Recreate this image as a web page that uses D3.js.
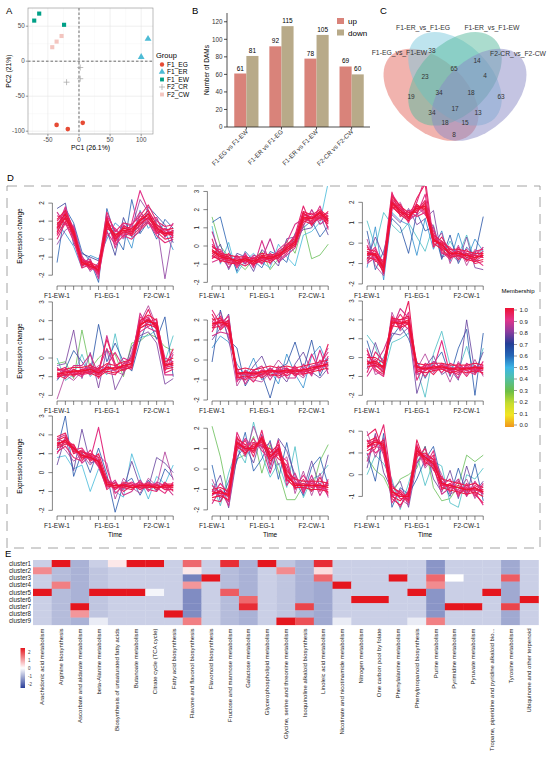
<!DOCTYPE html>
<html>
<head>
<meta charset="utf-8">
<script src="https://cdn.jsdelivr.net/npm/d3@7"></script>
<style>
  body { margin: 0; background: #fff; }
  svg { font-family: "Liberation Sans", Arial, sans-serif; }
</style>
</head>
<body>
<svg id="fig" width="550" height="763"></svg>
<script>
// ---------------- data ----------------
// A: PCA scores
const pcaGroups = ['F1_EG', 'F1_ER', 'F1_EW', 'F2_CR', 'F2_CW']
const pcaColors = ['#E64B35', '#4DBBD5', '#00A087', '#A3A3A3', '#F3C5BF']
const pcaSample = ['F1_EG', 'F1_EG', 'F1_EG', 'F1_ER', 'F1_ER', 'F1_EW', 'F1_EW', 'F1_EW',
                   'F2_CR', 'F2_CR', 'F2_CR', 'F2_CW', 'F2_CW', 'F2_CW']
const pcaPC1 = [-36, -18, 6, 100, 111, -72, -64, -24, 2, 2, -20, -43, -36, -28]
const pcaPC2 = [-91, -97, -88, 6, 32, 58, 68, 52, -9, -25, -30, 20, 28, 36]

// B: number of DAMs
const damComparisons = ['F1-EG vs F1-EW', 'F1-ER vs F1-EG', 'F1-ER vs F1-EW', 'F2-CR vs F2-CW']
const damUp = [61, 92, 78, 69]
const damDown = [81, 115, 105, 60]

// C: venn
const vennSets = ['F1-EG_vs_F1-EW', 'F1-ER_vs_F1-EG', 'F1-ER_vs_F1-EW', 'F2-CR_vs_F2-CW']
const vennColors = ['#E4675D', '#7DC9DE', '#58B99E', '#8A8AC6']
const vennCounts = [19, 38, 14, 63, 23, 65, 4, 34, 18, 34, 17, 13, 18, 15, 8]

// D: fuzzy clusters, each line = [membership, 15 standardised values]
const timeLabels = ['F1-EW-1', 'F1-EW-2', 'F1-EW-3', 'F1-ER-1', 'F1-ER-2', 'F1-ER-3',
                    'F1-EG-1', 'F1-EG-2', 'F1-EG-3', 'F2-CR-1', 'F2-CR-2', 'F2-CR-3',
                    'F2-CW-1', 'F2-CW-2', 'F2-CW-3']
const clusterYlim = [[-2.6, 2.95], [-2.2, 3.3], [-2.1, 2.8], [-2.3, 3.05], [-2.05, 2.95],
                     [-2.3, 3.0], [-2.3, 3.0], [-2.3, 2.6], [-1.9, 2.7]]

const cluster1 = [
  [1.00, 0.8, 1.4, 0.4, -1.3, -1.5, -1.7, 1.0, 0.2, 0.6, 0.5, 1.0, 1.4, 0.7, 0.3, 0.4],
  [0.98, 0.4, 1.2, 0.2, -1.4, -1.3, -1.8, 0.8, 0.0, 0.4, 0.3, 0.8, 1.2, 0.5, 0.2, 0.3],
  [0.97, 1.1, 1.6, 0.5, -1.1, -1.6, -1.5, 1.2, -0.1, 0.7, 0.6, 1.1, 1.6, 0.8, 0.5, 0.6],
  [0.95, 0.2, 1.0, 0.1, -1.5, -1.2, -1.9, 0.6, 0.3, 0.3, 0.2, 0.6, 1.0, 0.4, 0.0, 0.1],
  [0.93, 1.3, 1.1, 0.6, -1.2, -1.7, -1.4, 1.5, 0.4, 0.9, 0.8, 1.3, 1.9, 1.0, 0.7, 0.8],
  [0.92, 0.0, 0.9, -0.1, -1.6, -1.4, -2.0, 0.4, -0.3, 0.2, 0.0, 0.5, 0.9, 0.2, -0.2, 0.0],
  [0.90, 0.6, 1.8, 0.3, -1.0, -1.5, -1.6, 0.9, 0.6, 0.1, 0.9, 2.7, 1.6, 0.3, 0.6, 0.2],
  [0.88, 1.5, 0.8, 0.7, -1.3, -1.1, -2.2, 1.3, -0.5, 0.8, 0.4, 0.7, 1.1, 1.2, 0.1, 0.9],
  [0.80, -0.3, 0.5, 0.8, -0.9, -1.8, -1.3, 0.2, 0.5, 0.0, 0.6, 2.2, 1.5, 0.9, -2.2, 0.5],
  [0.72, 1.7, 2.0, -0.3, -0.8, -1.0, -1.2, 0.5, -0.9, 1.2, 0.1, 0.4, 1.8, 1.3, 0.8, -0.2],
  [0.62, -1.3, 1.7, 0.9, -0.7, -1.2, -2.4, 1.7, 0.2, -0.6, 2.2, 0.3, 1.0, 0.0, 1.1, 0.6],
  [0.55, 0.9, 0.3, -0.4, -1.6, -0.9, -1.1, 0.0, 0.9, 0.5, -0.5, 1.6, 0.6, 1.1, 0.4, -0.6],
  [0.85, 0.5, 1.5, 0.0, -1.4, -1.5, -1.7, 1.1, 0.0, 0.9, 0.7, 0.8, 1.5, 0.6, 0.3, 0.5],
  [0.96, 0.9, 1.1, 0.4, -1.2, -1.3, -1.5, 0.7, 0.1, 0.5, 0.2, 1.1, 1.3, 0.4, 0.4, 0.2],
  [0.94, 0.7, 1.3, 0.2, -1.4, -1.4, -1.6, 0.8, 0.1, 0.4, 0.6, 0.9, 1.2, 0.6, 0.2, 0.5],
  [0.92, 1.0, 1.5, 0.5, -1.2, -1.6, -1.8, 1.1, -0.2, 0.7, 0.3, 1.3, 1.1, 0.8, 0.4, 0.3],
  [0.99, 0.6, 1.2, 0.3, -1.3, -1.4, -1.7, 0.9, 0.2, 0.5, 0.4, 1.0, 1.4, 0.6, 0.3, 0.4],
  [0.90, 0.3, 1.6, 0.6, -1.1, -1.3, -1.9, 1.3, 0.5, 0.2, 0.8, 1.5, 1.0, 0.3, 0.6, 0.1]
]
const cluster2 = [
  [1.00, -0.3, -0.6, -0.7, -0.8, -0.7, -0.9, -0.6, -0.7, -0.5, -0.1, 0.2, 1.6, 1.5, 1.8, 1.4],
  [0.98, -0.5, -0.8, -0.9, -1.0, -0.8, -1.0, -0.8, -0.9, -0.6, -0.3, 0.0, 1.4, 1.2, 1.6, 1.2],
  [0.97, 0.0, -0.4, -0.5, -0.6, -0.6, -0.7, -0.4, -0.5, -0.4, 0.1, 0.4, 1.9, 1.7, 2.0, 1.6],
  [0.95, -0.7, -0.3, -1.0, -0.9, -1.1, -0.8, -0.9, -0.6, -0.7, -0.2, 0.1, 1.3, 1.6, 1.5, 1.9],
  [0.93, 0.4, -0.9, -0.4, -1.2, -0.5, -1.1, -0.5, -0.8, -0.3, 0.0, 0.6, 2.2, 1.1, 1.9, 1.0],
  [0.91, -0.1, -0.2, -0.8, -0.7, -0.9, -0.6, -1.0, -0.4, -0.8, -0.4, 0.3, 1.7, 1.8, 1.4, 1.7],
  [0.89, -0.9, -0.7, -0.6, -1.1, -0.4, -1.2, 0.3, -1.0, -0.2, 0.2, 1.2, 1.5, 1.3, 2.2, 0.9],
  [0.86, 0.8, -0.5, -1.2, -0.5, -1.0, -0.5, -0.7, 0.4, -0.9, -0.5, -0.1, 1.1, 2.0, 1.2, 1.5],
  [0.75, -0.6, 0.1, -1.3, -0.4, -0.6, -1.4, -0.2, -0.6, -1.1, 0.4, 0.5, 0.9, 1.0, 1.7, 0.6],
  [0.62, 1.3, 1.6, -0.2, -1.4, -0.3, -0.8, -1.2, -0.3, -0.5, -0.9, 0.7, 1.0, 1.4, 0.5, 1.1],
  [0.48, 1.1, -1.0, 0.2, -1.5, -0.8, -0.4, -0.9, -1.2, 0.1, -0.6, -1.1, 0.6, 0.8, 1.3, 3.5],
  [0.32, 1.6, 0.0, -0.6, -0.9, -1.3, -0.7, -0.3, -1.3, -0.7, 0.3, -0.4, 1.2, -0.7, -0.5, 0.1],
  [0.96, -0.4, -0.7, -0.8, -0.9, -0.8, -1.0, -0.7, -0.8, -0.6, 0.0, 0.3, 1.5, 1.4, 1.7, 1.3],
  [0.99, -0.2, -0.5, -0.6, -0.9, -0.7, -0.8, -0.5, -0.6, -0.5, -0.2, 0.1, 1.8, 1.5, 1.9, 1.5],
  [0.94, -0.3, -0.5, -0.8, -0.7, -0.8, -0.8, -0.7, -0.6, -0.6, -0.1, 0.3, 1.6, 1.3, 1.7, 1.5],
  [0.92, -0.6, -0.7, -0.6, -1.0, -0.6, -1.0, -0.6, -0.8, -0.4, -0.2, 0.1, 1.7, 1.6, 1.9, 1.3],
  [0.99, -0.2, -0.6, -0.7, -0.8, -0.7, -0.9, -0.6, -0.7, -0.5, -0.1, 0.2, 1.5, 1.5, 1.8, 1.4],
  [0.90, 0.1, -0.4, -0.9, -0.6, -0.9, -0.7, -0.8, -0.5, -0.7, 0.0, 0.5, 1.9, 1.2, 1.6, 1.8]
]
const cluster3 = [
  [1.00, -0.5, -0.6, -1.2, 2.0, 1.6, 1.3, 1.7, 1.8, 0.2, -0.1, -0.5, -0.5, -0.6, -0.7, -0.6],
  [0.98, -0.7, -0.8, -1.4, 1.8, 1.4, 1.1, 1.9, 1.6, 0.0, -0.3, -0.7, -0.6, -0.8, -0.9, -0.8],
  [0.97, -0.3, -0.4, -1.0, 2.3, 1.8, 1.5, 1.5, 2.0, 0.4, 0.1, -0.3, -0.3, -0.4, -0.5, -0.5],
  [0.95, -0.9, -0.5, -1.5, 1.7, 1.9, 1.2, 2.2, 2.9, -0.2, 0.3, -0.4, -0.8, -0.5, -1.0, -0.9],
  [0.93, -0.1, -0.9, -0.8, 2.5, 1.3, 1.6, 1.3, 1.5, 0.6, -0.4, -0.8, -0.2, -0.9, -0.4, -0.3],
  [0.91, -0.6, -0.2, -1.3, 1.9, 1.7, 1.0, 2.0, 3.2, 0.1, 0.0, -0.2, -0.7, -0.3, -0.8, -1.1],
  [0.89, -1.0, -0.7, -0.9, 2.1, 1.5, 1.4, 1.8, 1.4, 0.8, -0.5, -0.6, -0.4, -0.7, -0.6, -0.2],
  [0.85, 0.2, -1.1, -1.6, 1.6, 2.0, 1.1, 1.4, 1.7, 0.0, 0.5, -1.0, -0.1, -1.1, -0.3, -0.7],
  [0.78, -0.8, 0.3, -0.6, 1.4, 1.0, 1.7, 0.9, 1.2, 1.6, -0.7, -0.5, -0.9, 0.3, -1.2, -1.3],
  [0.65, 0.6, -1.3, -0.4, 1.2, 0.8, -0.5, 1.5, 0.6, 0.8, -0.8, 0.4, -1.0, -0.2, -0.6, 1.3],
  [0.55, -1.2, 0.8, -1.8, 1.5, 1.1, 0.9, -0.6, 1.2, -0.3, 0.6, -0.9, 0.5, -0.8, 0.2, -0.4],
  [0.45, 1.1, -0.2, 1.5, 0.9, 0.5, 1.0, 0.3, -0.4, 0.9, -0.7, 0.1, -0.6, 0.4, -0.9, -0.2],
  [0.96, -0.4, -0.6, -1.1, 2.2, 1.7, 1.4, 1.6, 1.9, 0.3, -0.1, -0.4, -0.6, -0.5, -0.6, -0.7],
  [0.99, -0.6, -0.5, -1.3, 1.9, 1.5, 1.2, 1.8, 1.7, 0.1, 0.0, -0.6, -0.4, -0.7, -0.8, -0.5],
  [0.94, -0.4, -0.7, -1.2, 2.1, 1.6, 1.3, 1.6, 2.1, 0.2, -0.2, -0.5, -0.6, -0.6, -0.6, -0.7],
  [0.92, -0.8, -0.3, -1.0, 1.8, 1.4, 1.5, 1.9, 1.5, 0.4, -0.3, -0.3, -0.5, -0.8, -0.7, -0.4],
  [0.90, -0.2, -0.6, -1.4, 2.4, 1.8, 1.2, 1.4, 2.4, -0.1, 0.1, -0.7, -0.3, -0.5, -0.9, -0.6],
  [0.97, -0.5, -0.5, -1.1, 2.0, 1.5, 1.4, 1.7, 1.8, 0.2, -0.2, -0.5, -0.5, -0.6, -0.7, -0.6]
]
const cluster4 = [
  [1.00, -0.8, -0.8, -0.7, -0.7, -0.6, -0.8, -0.5, -0.6, -0.4, -0.3, 1.8, 2.0, 1.8, -0.4, -0.3],
  [0.98, -1.0, -0.9, -0.9, -0.8, -0.8, -1.0, -0.7, -0.8, -0.6, -0.5, 1.6, 1.8, 1.6, -0.6, -0.5],
  [0.97, -0.6, -0.6, -0.5, -0.5, -0.4, -0.6, -0.3, -0.4, -0.2, -0.1, 2.0, 2.3, 2.0, -0.2, 0.0],
  [0.95, -0.9, -1.1, -0.6, -0.9, -0.5, -0.7, 1.0, -0.3, -0.7, -0.4, 1.7, 2.6, 1.5, -0.5, 0.5],
  [0.93, -0.7, -0.5, -1.0, -0.6, -0.9, -0.5, -0.8, -0.9, -0.3, 0.0, 2.2, 1.9, 2.1, -0.8, -0.6],
  [0.91, -1.1, -0.7, -0.8, -1.0, -0.3, -1.1, -0.4, 0.3, -0.5, -0.6, 1.4, 1.7, 1.9, 0.0, -0.2],
  [0.88, -0.5, -1.0, -0.4, -0.4, 0.2, -0.9, 1.2, -0.5, 0.0, -0.2, 2.4, 1.6, 1.4, -0.9, -0.9],
  [0.84, -2.2, -0.9, -1.2, -0.7, -0.8, -0.4, -0.6, -0.7, -0.9, 0.3, 1.9, 2.8, 1.7, -0.3, 0.3],
  [0.78, -0.4, -0.3, 1.5, -1.1, 0.3, -1.6, 0.5, -1.7, -0.8, 0.6, 1.2, 1.4, 0.8, -1.4, -1.1],
  [0.65, -1.2, -0.6, 0.4, -0.2, -0.8, 1.8, -0.2, 0.8, -0.2, -0.7, 0.9, 2.1, 1.0, 2.2, -1.0],
  [0.45, 0.0, -1.2, -0.9, 0.2, -1.0, -0.5, -0.9, 1.3, -0.7, 0.2, 1.1, 1.2, 1.5, -0.2, 1.2],
  [0.32, -0.3, -0.2, -1.1, 1.5, -0.6, 0.0, 0.4, 0.2, -1.0, 0.8, 0.9, 1.3, 1.1, 0.6, 0.4],
  [0.96, -0.9, -0.7, -0.8, -0.6, -0.7, -0.9, -0.6, -0.5, -0.5, -0.4, 1.7, 2.1, 1.7, -0.3, -0.4],
  [0.94, -0.8, -0.9, -0.6, -0.8, -0.7, -0.7, -0.6, -0.5, -0.5, -0.3, 1.9, 2.1, 1.6, -0.4, -0.2],
  [0.92, -0.6, -0.7, -0.9, -0.6, -0.5, -0.9, -0.4, -0.7, -0.3, -0.2, 1.6, 1.9, 1.9, -0.5, -0.4],
  [0.99, -0.9, -0.8, -0.7, -0.7, -0.6, -0.8, -0.5, -0.6, -0.4, -0.3, 1.8, 2.0, 1.7, -0.4, -0.3],
  [0.90, -1.0, -0.6, -0.8, -0.9, -0.8, -0.6, 0.5, -0.4, -0.6, 0.1, 2.0, 2.2, 1.5, -0.7, 0.2]
]
const cluster5 = [
  [1.00, 1.8, 1.9, 1.8, -0.7, -0.6, -0.7, -0.6, -0.5, -0.6, -0.5, -0.6, -0.5, -0.4, -0.3, -0.2],
  [0.98, 2.0, 2.1, 1.6, -0.9, -0.8, -0.9, -0.7, -0.7, -0.8, -0.6, -0.7, -0.7, -0.6, -0.5, -0.4],
  [0.97, 1.6, 1.7, 2.0, -0.5, -0.4, -0.5, -0.4, -0.3, -0.4, -0.3, -0.4, -0.3, -0.2, -0.1, 0.0],
  [0.95, 2.3, 1.5, 1.9, -0.8, -1.0, -0.6, -0.9, -0.6, -0.5, -0.8, -0.5, -0.6, -0.5, -0.4, 0.8],
  [0.93, 1.4, 2.2, 1.5, -0.6, -0.7, -1.1, -0.5, -0.8, -0.7, -0.4, -0.8, -0.4, -0.7, 0.0, -0.5],
  [0.91, 2.5, 1.8, 2.2, -1.1, -0.5, -0.8, -0.8, -0.4, -0.9, -0.7, -0.3, -0.8, 0.3, -0.6, 0.2],
  [0.88, 1.2, 1.4, 1.3, -0.4, -1.2, -0.5, -0.3, -1.0, -0.3, -0.9, -0.9, -0.2, -0.8, 0.5, -0.7],
  [0.84, 1.9, 2.4, 1.1, -1.3, -0.6, -1.0, -1.1, -0.6, 0.0, -0.5, -0.6, -0.9, -0.3, -0.2, 0.6],
  [0.76, 1.0, 1.6, 2.3, -1.0, -0.9, -0.3, 0.2, -0.8, -0.6, -1.1, -0.2, 0.4, -0.6, -0.9, -0.4],
  [0.66, -0.1, 2.5, 1.0, 0.6, -1.3, -0.6, -0.7, -1.9, -0.4, -0.2, 0.9, -0.5, 1.0, -0.8, 0.1],
  [0.55, 0.6, 1.2, 0.9, -0.2, -0.8, 0.1, -1.0, -0.5, -1.2, 0.3, -0.7, -1.4, 0.2, 0.7, -0.3],
  [0.96, 1.7, 2.0, 1.7, -0.7, -0.7, -0.6, -0.6, -0.6, -0.5, -0.6, -0.5, -0.6, -0.5, -0.3, -0.3],
  [0.94, 1.9, 1.8, 1.7, -0.8, -0.6, -0.7, -0.7, -0.5, -0.6, -0.6, -0.6, -0.5, -0.5, -0.3, -0.3],
  [0.92, 1.6, 2.0, 1.9, -0.6, -0.7, -0.8, -0.5, -0.6, -0.5, -0.4, -0.7, -0.6, -0.3, -0.4, -0.1],
  [0.99, 1.8, 1.9, 1.7, -0.7, -0.6, -0.7, -0.6, -0.6, -0.6, -0.5, -0.5, -0.5, -0.4, -0.3, -0.2],
  [0.90, 2.1, 1.6, 2.0, -0.9, -0.9, -0.5, -0.8, -0.4, -0.7, -0.6, -0.4, -0.7, -0.6, -0.2, 0.4]
]
const cluster6 = [
  [1.00, -0.3, -0.2, -0.5, 1.9, 1.8, 2.0, -0.5, -0.6, -0.5, -0.5, -0.6, -0.6, -0.6, -0.5, -0.6],
  [0.98, -0.5, -0.4, -0.8, 1.7, 1.6, 1.8, -0.7, -0.8, -0.7, -0.6, -0.8, -0.7, -0.8, -0.7, -0.8],
  [0.97, 0.0, 0.0, -0.3, 2.1, 2.0, 2.2, -0.3, -0.4, -0.3, -0.3, -0.4, -0.4, -0.4, -0.3, -0.4],
  [0.95, 0.4, -0.6, -0.9, 2.2, 1.5, 3.0, -0.8, -0.5, -0.9, -0.4, -0.7, -0.9, -0.5, -0.8, -0.5],
  [0.93, -0.8, 0.3, -0.2, 1.6, 2.3, 1.7, -0.4, -1.0, -0.4, -0.8, -0.3, -0.5, -1.0, -0.4, -0.9],
  [0.91, -0.1, -0.7, -1.0, 2.0, 1.9, 1.5, -1.2, -0.3, -0.6, 0.9, -0.9, -0.3, -0.7, -0.9, -0.2],
  [0.88, -1.0, -0.3, 0.4, 1.5, 2.6, 2.1, -0.9, -0.7, -0.2, -0.6, -0.5, -1.1, -0.3, -0.6, -0.7],
  [0.84, 0.5, -0.9, -0.7, 2.4, 1.4, 1.9, -0.6, 0.2, -0.8, -0.3, -1.3, -0.2, -0.9, -0.1, -1.0],
  [0.76, -0.6, 0.8, -0.4, 1.3, 1.2, 1.6, -1.9, -0.5, 0.1, -0.9, -0.6, -1.2, 2.0, -0.8, 0.3],
  [0.64, 0.9, -0.5, 0.0, 1.1, 1.7, 1.0, -0.2, -1.1, -0.3, 0.3, -1.0, 0.5, 1.5, -2.0, 1.3],
  [0.45, 1.2, 0.6, -0.9, 0.8, 1.0, 1.3, -0.6, -2.1, 0.2, 1.4, -0.4, -0.7, 0.6, -0.9, 0.5],
  [0.96, -0.2, -0.3, -0.6, 1.8, 1.9, 1.8, -0.5, -0.5, -0.6, -0.4, -0.6, -0.5, -0.6, -0.6, -0.5],
  [0.94, -0.4, -0.1, -0.6, 2.0, 1.7, 1.9, -0.6, -0.6, -0.6, -0.5, -0.5, -0.7, -0.5, -0.6, -0.6],
  [0.92, -0.2, -0.5, -0.4, 1.8, 2.0, 2.1, -0.4, -0.7, -0.4, -0.6, -0.7, -0.5, -0.7, -0.5, -0.5],
  [0.99, -0.3, -0.3, -0.5, 1.9, 1.8, 1.9, -0.5, -0.6, -0.5, -0.5, -0.6, -0.6, -0.6, -0.5, -0.6],
  [0.90, 0.2, -0.4, -0.7, 2.1, 1.6, 2.4, -0.7, -0.4, -0.7, -0.3, -0.6, -0.8, -0.4, -0.7, -0.4]
]
const cluster7 = [
  [1.00, 1.5, 1.7, 1.3, 0.9, 0.8, 0.6, -0.6, -0.7, -0.7, -0.8, -0.7, -0.7, -0.8, -0.7, -0.7],
  [0.98, 1.7, 1.9, 1.1, 1.1, 0.9, 0.4, -0.7, -0.8, -0.6, -0.7, -0.8, -0.8, -0.7, -0.8, -0.8],
  [0.97, 1.3, 1.5, 1.5, 0.7, 1.0, 0.8, -0.5, -0.6, -0.8, -0.9, -0.6, -0.6, -0.9, -0.6, -0.6],
  [0.95, 1.9, 2.1, 1.0, 1.2, 0.6, 1.0, -0.3, -0.9, -0.5, -0.6, -0.9, -0.7, -0.6, -0.9, -0.9],
  [0.93, 1.1, 1.4, 0.8, 0.6, 1.2, 0.5, -0.9, -0.5, -1.0, -0.7, -0.5, -0.9, -1.0, -0.5, -1.0],
  [0.91, 1.8, 1.6, 1.2, 1.3, 0.7, 2.4, 0.2, -1.1, -0.7, -0.5, -0.8, -0.5, -0.8, -1.1, -0.5],
  [0.88, 1.0, 1.8, 1.4, 0.5, 0.9, 0.3, -0.8, -0.4, -1.2, -1.0, -0.4, -1.0, -0.5, -0.7, -1.2],
  [0.84, 1.6, 1.2, 0.6, 1.0, 0.4, 0.9, 0.5, -1.4, -0.3, -0.8, -1.1, -0.3, -0.7, 1.1, -0.4],
  [0.76, 0.4, 1.9, 0.1, 2.3, 0.5, 0.7, -0.4, -0.6, -0.9, 0.6, -0.7, -0.8, 0.8, 0.5, 0.0],
  [0.64, 1.2, 3.0, -0.2, 1.1, 0.0, 1.3, -0.1, -2.1, -0.6, -0.3, -1.2, -0.4, -1.0, 0.2, -0.3],
  [0.48, 0.8, 0.9, 0.2, 0.4, -1.0, 0.2, -0.3, -1.0, -1.3, 1.0, -0.3, -1.4, -0.2, -0.6, 0.4],
  [0.96, 1.4, 1.6, 1.3, 0.8, 0.8, 0.6, -0.6, -0.7, -0.7, -0.7, -0.7, -0.7, -0.7, -0.8, -0.7],
  [0.94, 1.6, 1.6, 1.2, 1.0, 0.7, 0.6, -0.7, -0.7, -0.6, -0.8, -0.7, -0.6, -0.8, -0.7, -0.8],
  [0.92, 1.4, 1.8, 1.4, 0.8, 0.9, 0.7, -0.5, -0.8, -0.8, -0.7, -0.6, -0.8, -0.7, -0.6, -0.7],
  [0.99, 1.5, 1.7, 1.3, 0.9, 0.8, 0.6, -0.6, -0.7, -0.7, -0.8, -0.7, -0.7, -0.8, -0.7, -0.7],
  [0.90, 1.8, 2.0, 1.1, 1.1, 1.0, 0.5, -0.4, -0.9, -0.6, -0.6, -0.9, -0.6, -0.6, -0.9, -0.6]
]
const cluster8 = [
  [1.00, -1.2, -1.1, -1.3, 1.3, 1.0, 1.0, 1.5, 0.6, 1.0, -0.3, -0.8, -0.8, -0.8, -0.8, -0.9],
  [0.98, -1.4, -1.3, -1.5, 1.1, 0.8, 1.2, 1.3, 0.4, 0.8, -0.5, -0.9, -0.9, -1.0, -1.0, -1.1],
  [0.97, -1.0, -0.9, -1.1, 1.5, 1.2, 0.8, 1.6, 0.8, 1.2, -0.1, -0.5, -0.6, -0.6, -0.6, -0.7],
  [0.95, -1.5, -1.6, -0.9, 1.6, 0.7, 1.3, 1.1, 1.0, 0.5, 0.2, -1.0, -0.5, -1.1, -0.4, -1.2],
  [0.93, -0.8, -1.2, -1.6, 1.0, 1.4, 0.6, 1.9, 0.2, 1.4, -0.6, -0.4, -1.1, -0.5, -1.1, -0.6],
  [0.91, -1.3, -0.7, -1.2, 1.8, 0.9, 1.5, 0.9, 0.5, 0.7, 0.4, -0.9, -0.3, -0.9, -0.7, -1.3],
  [0.88, -1.7, -1.0, -1.8, 0.9, 1.5, 1.0, 1.2, -0.2, 1.1, -0.8, -0.2, -1.2, -0.3, -1.3, -0.5],
  [0.84, -0.5, -1.4, -1.0, 1.4, 0.6, 2.1, 1.0, 1.3, 0.2, 0.6, -1.2, -0.1, -1.3, -0.2, -1.4],
  [0.76, -1.1, -0.3, -1.9, 0.6, 1.1, 0.3, 1.7, 0.0, 1.5, 0.9, -0.3, -1.0, 0.4, -0.9, 0.7],
  [0.62, 0.2, -1.6, -0.6, 0.4, 1.8, -0.1, 0.5, 1.4, -0.5, 1.3, -0.6, -1.3, 0.1, 0.6, -0.8],
  [0.45, -0.7, -1.8, -0.2, 1.0, 0.3, 2.3, 0.7, -0.4, 0.3, -0.9, 1.1, -1.4, -0.5, -0.3, 0.2],
  [0.32, 2.1, 0.6, -1.4, 0.5, 0.7, 1.6, -0.2, 1.2, -0.1, -1.5, -1.5, -0.8, -1.1, 0.4, 1.2],
  [0.96, -1.1, -1.2, -1.2, 1.2, 1.1, 0.9, 1.4, 0.7, 0.9, -0.4, -0.7, -0.8, -0.8, -0.9, -0.8],
  [0.94, -1.2, -1.2, -1.2, 1.2, 1.0, 1.1, 1.4, 0.6, 0.9, -0.2, -0.8, -0.7, -0.9, -0.8, -0.8],
  [0.92, -1.3, -1.0, -1.4, 1.4, 0.9, 0.9, 1.6, 0.5, 1.1, -0.4, -0.7, -0.9, -0.7, -0.9, -1.0],
  [0.99, -1.2, -1.1, -1.3, 1.3, 1.0, 1.0, 1.5, 0.6, 1.0, -0.3, -0.8, -0.8, -0.8, -0.8, -0.9],
  [0.90, -1.0, -1.4, -1.1, 1.1, 1.2, 1.3, 1.2, 0.8, 0.8, 0.0, -0.6, -1.0, -0.6, -1.0, -0.7]
]
const cluster9 = [
  [1.00, 1.3, 1.5, 1.4, -0.8, -1.0, -1.0, 1.1, 0.8, 0.5, -0.4, -0.5, -0.6, -0.7, -0.6, -0.8],
  [0.98, 1.5, 1.7, 1.2, -1.0, -1.2, -0.8, 1.3, 0.6, 0.3, -0.6, -0.7, -0.8, -0.9, -0.8, -1.0],
  [0.97, 1.1, 1.3, 1.6, -0.6, -0.8, -1.2, 0.9, 1.0, 0.7, -0.2, -0.3, -0.4, -0.5, -0.4, -0.6],
  [0.95, 1.8, 2.1, 1.0, -1.1, -1.4, -0.9, 1.6, 0.5, 0.9, -0.7, -0.4, -0.9, -0.6, -0.9, -1.3],
  [0.93, 0.9, 1.2, 2.3, -0.5, -0.9, -1.3, 0.8, 1.2, 0.2, -0.1, -0.8, -0.3, -0.9, -0.5, -0.7],
  [0.91, 1.6, 1.0, 1.3, -1.3, -0.7, -1.1, 1.4, 0.4, 1.1, -0.5, -0.2, -1.0, -0.4, -1.0, -0.4],
  [0.88, 0.6, 1.8, 0.9, -0.9, -1.5, -0.7, 0.6, 0.9, 0.4, -0.9, -0.6, -0.2, -1.0, -0.3, -0.9],
  [0.84, 2.0, 0.8, 1.7, -0.4, -1.1, -1.4, 1.2, 0.3, 0.8, 0.0, -0.9, -0.7, -0.2, -1.1, -0.5],
  [0.76, 0.3, 1.9, 0.1, -0.7, -0.3, -1.5, 0.5, 1.3, -0.2, -0.8, 0.2, -1.1, 0.4, -0.8, -0.3],
  [0.64, 1.0, -0.3, 1.9, -1.5, -0.6, -0.9, -0.2, 0.7, 1.3, -0.3, -1.0, 0.3, -0.9, 0.5, -1.2],
  [0.45, 0.0, 0.9, 0.5, -0.2, -1.6, -0.4, 0.9, -0.5, 0.6, 0.4, -1.3, -1.5, 0.0, -0.2, 0.3],
  [0.32, 0.8, 0.2, -0.1, -0.9, -0.2, 0.0, 0.3, 1.3, -0.6, -1.2, -1.1, -0.5, 0.9, 0.6, 0.9],
  [0.96, 1.4, 1.6, 1.3, -0.8, -0.9, -1.0, 1.0, 0.7, 0.6, -0.4, -0.6, -0.5, -0.7, -0.7, -0.7],
  [0.94, 1.3, 1.4, 1.5, -0.9, -1.0, -0.9, 1.1, 0.8, 0.6, -0.5, -0.5, -0.6, -0.6, -0.7, -0.8],
  [0.92, 1.2, 1.6, 1.3, -0.7, -1.1, -1.1, 1.2, 0.7, 0.4, -0.3, -0.6, -0.7, -0.8, -0.6, -0.9],
  [0.99, 1.3, 1.5, 1.4, -0.8, -1.0, -1.0, 1.1, 0.8, 0.5, -0.4, -0.5, -0.6, -0.7, -0.6, -0.8],
  [0.90, 1.6, 1.3, 1.2, -1.0, -0.8, -1.2, 1.0, 0.9, 0.7, -0.6, -0.4, -0.8, -0.5, -0.8, -1.4]
]
const clusterLines = [cluster1, cluster2, cluster3, cluster4, cluster5, cluster6, cluster7, cluster8, cluster9]

const membershipStops = [0.0, 0.1, 0.2, 0.3, 0.42, 0.5, 0.6, 0.7, 0.8, 0.9, 1.0]
const membershipColors = ['#F0961C', '#F3E523', '#C6DC2E', '#6CBE45', '#4FC0B0', '#3DB6E6',
                          '#2466B6', '#243E96', '#8B3C9E', '#E2348A', '#EE1133']

// E: pathway enrichment heatmap
const heatClusters = ['cluster1', 'cluster2', 'cluster3', 'cluster4', 'cluster5',
                      'cluster6', 'cluster7', 'cluster8', 'cluster9']
const heatPathways = [
  'Arachidonic acid metabolism', 'Arginine biosynthesis', 'Ascorbate and aldarate metabolism',
  'beta-Alanine metabolism', 'Biosynthesis of unsaturated fatty acids', 'Butanoate metabolism',
  'Citrate cycle (TCA cycle)', 'Fatty acid biosynthesis', 'Flavone and flavonol biosynthesis',
  'Flavonoid biosynthesis', 'Fructose and mannose metabolism', 'Galactose metabolism',
  'Glycerophospholipid metabolism', 'Glycine, serine and threonine metabolism',
  'Isoquinoline alkaloid biosynthesis', 'Linoleic acid metabolism',
  'Nicotinate and nicotinamide metabolism', 'Nitrogen metabolism', 'One carbon pool by folate',
  'Phenylalanine metabolism', 'Phenylpropanoid biosynthesis', 'Purine metabolism',
  'Pyrimidine metabolism', 'Pyruvate metabolism', 'Tropane, piperidine and pyridine alkaloid bio...',
  'Tyrosine metabolism', 'Ubiquinone and other terpenoid'
]
const heatValues = [
  [-0.5, 2.0, -0.8, -0.5, 0.2, 2.0, 2.0, -0.5, 1.3, -0.5, 1.8, -0.8, 2.0, -0.6, -0.8, 1.8, -0.5, -0.5, -0.5, -0.5, -0.5, -1.1, -0.5, -0.5, -0.5, -0.9, -0.5],
  [1.0, -0.7, -0.8, -0.6, -0.5, -0.5, -0.5, -0.5, 0.2, -0.5, -0.7, -0.8, -0.5, 1.0, -0.8, 0.3, -0.5, -0.5, -0.5, -0.5, -0.5, -1.1, -0.5, -0.5, -0.5, -0.9, -0.5],
  [-0.5, -0.7, -0.8, -0.6, -0.5, -0.5, -0.5, -0.5, -1.3, 2.0, -0.7, -0.8, -0.5, -0.6, -0.8, 1.3, -0.5, -0.5, -0.5, 2.0, -0.5, 1.3, 0.0, -0.5, -0.5, 1.4, -0.5],
  [-0.5, 1.1, -0.8, -0.6, -0.5, -0.5, -0.5, -0.5, 0.9, -0.5, -0.7, -0.8, -0.5, -0.6, -0.8, -0.9, 2.0, -0.5, -0.5, -0.5, -0.5, 1.0, -0.5, -0.5, -0.5, -0.9, -0.5],
  [2.0, -0.7, -0.8, 2.0, 2.0, 2.0, -0.1, -0.5, -1.2, -0.5, 1.4, -0.8, -0.5, -0.6, -0.8, -0.9, -0.5, -0.5, -0.5, -0.5, 2.0, -1.1, -0.5, -0.5, 2.0, -0.9, -0.5],
  [-0.5, -0.7, -0.8, -0.6, -0.5, -0.5, -0.5, -0.5, -1.2, -0.5, -0.7, 1.3, -0.5, -0.6, -0.8, -0.9, -0.5, 2.0, 2.0, -0.5, -0.5, -1.1, -0.5, -0.5, -0.5, -0.9, 2.0],
  [-0.5, -0.7, 2.0, -0.6, -0.5, -0.5, -0.5, -0.5, -1.2, -0.5, -0.7, 1.8, -0.5, -0.6, 1.6, -0.9, -0.5, -0.5, -0.5, -0.5, -0.5, -1.1, 2.0, 2.0, -0.5, 1.6, -0.5],
  [-0.5, -0.7, 0.9, -0.6, -0.5, -0.5, -0.5, 2.0, -1.2, -0.5, -0.7, -0.8, -0.5, -0.6, -0.8, -0.9, -0.5, -0.5, -0.5, -0.5, -0.5, -1.1, -0.5, -0.5, -0.5, -0.9, -0.5],
  [-0.5, -0.7, -0.8, -0.2, -0.5, -0.5, -0.5, -0.5, 1.1, -0.5, -0.7, -0.8, -0.5, 2.0, 1.5, -0.9, -0.2, -0.5, -0.5, -0.5, -0.2, 1.1, -0.5, -0.5, -0.5, -0.9, -0.5]
]
const heatLegendTicks = [2, 1, 0, -1, -2]

// ---------------- drawing ----------------
const svg = d3.select('#fig')
const defs = svg.append('defs')

function panelLetter(t, x, y) {
  svg.append('text').attr('x', x).attr('y', y).attr('font-size', 9.5).text(t)
}
panelLetter('A', 6, 14)
panelLetter('B', 192, 14)
panelLetter('C', 380, 14)
panelLetter('D', 7, 181)
panelLetter('E', 5, 557)

// ---- A: PCA ----
{
  const left = 28, right = 153, top = 8, bottom = 134
  const x = d3.scaleLinear().domain([-82, 119]).range([left, right])
  const y = d3.scaleLinear().domain([-104, 76]).range([bottom, top])
  const g = svg.append('g')

  g.selectAll('.vmin').data([-75, -25, 25, 75]).join('line')
    .attr('x1', d => x(d)).attr('x2', d => x(d)).attr('y1', top).attr('y2', bottom)
    .attr('stroke', '#F3F3F3').attr('stroke-width', 0.4)
  g.selectAll('.hmin').data([-75, -25, 25, 75]).join('line')
    .attr('y1', d => y(d)).attr('y2', d => y(d)).attr('x1', left).attr('x2', right)
    .attr('stroke', '#F3F3F3').attr('stroke-width', 0.4)
  g.selectAll('.vmaj').data([-50, 0, 50, 100]).join('line')
    .attr('x1', d => x(d)).attr('x2', d => x(d)).attr('y1', top).attr('y2', bottom)
    .attr('stroke', '#E6E6E6').attr('stroke-width', 0.6)
  g.selectAll('.hmaj').data([-100, -50, 0, 50]).join('line')
    .attr('y1', d => y(d)).attr('y2', d => y(d)).attr('x1', left).attr('x2', right)
    .attr('stroke', '#E6E6E6').attr('stroke-width', 0.6)

  // zero lines
  g.append('line').attr('x1', x(0)).attr('x2', x(0)).attr('y1', top).attr('y2', bottom)
    .attr('stroke', '#333').attr('stroke-width', 0.7).attr('stroke-dasharray', '2.5,2')
  g.append('line').attr('y1', y(0)).attr('y2', y(0)).attr('x1', left).attr('x2', right)
    .attr('stroke', '#333').attr('stroke-width', 0.7).attr('stroke-dasharray', '2.5,2')

  const color = d3.scaleOrdinal().domain(pcaGroups).range(pcaColors)
  const shape = d3.scaleOrdinal().domain(pcaGroups)
    .range([d3.symbolCircle, d3.symbolTriangle, d3.symbolSquare, null, d3.symbolSquare])
  const drawSymbol = (sel, grp, size) => {
    if (grp === 'F2_CR') {
      sel.append('path').attr('d', 'M-3,0H3M0,-3V3').attr('fill', 'none')
        .attr('stroke', color(grp)).attr('stroke-width', 0.7)
    } else {
      sel.append('path').attr('d', d3.symbol().type(shape(grp)).size(size)())
        .attr('fill', color(grp))
    }
  }
  pcaSample.forEach((grp, i) => {
    const p = g.append('g').attr('transform', `translate(${x(pcaPC1[i])},${y(pcaPC2[i])})`)
    drawSymbol(p, grp, grp === 'F1_ER' ? 20 : 17)
  })

  g.append('rect').attr('x', left).attr('y', top).attr('width', right - left).attr('height', bottom - top)
    .attr('fill', 'none').attr('stroke', '#8F8F8F').attr('stroke-width', 0.6)

  // axes ticks
  g.selectAll('.xt').data([-50, 0, 50, 100]).join('line')
    .attr('x1', d => x(d)).attr('x2', d => x(d)).attr('y1', bottom).attr('y2', bottom + 2.2)
    .attr('stroke', '#555').attr('stroke-width', 0.6)
  g.selectAll('.xl').data([-50, 0, 50, 100]).join('text')
    .attr('x', d => x(d)).attr('y', bottom + 7.8).attr('text-anchor', 'middle')
    .attr('font-size', 6.3).attr('fill', '#4D4D4D').text(d => d)
  g.selectAll('.yt').data([-100, -50, 0, 50]).join('line')
    .attr('y1', d => y(d)).attr('y2', d => y(d)).attr('x1', left - 2.2).attr('x2', left)
    .attr('stroke', '#555').attr('stroke-width', 0.6)
  g.selectAll('.yl').data([-100, -50, 0, 50]).join('text')
    .attr('x', left - 3.3).attr('y', d => y(d) + 2.2).attr('text-anchor', 'end')
    .attr('font-size', 6.3).attr('fill', '#4D4D4D').text(d => d)

  g.append('text').attr('x', (left + right) / 2).attr('y', 149.5).attr('text-anchor', 'middle')
    .attr('font-size', 6.8).text('PC1 (26.1%)')
  g.append('text').attr('transform', `translate(10.5,${(top + bottom) / 2}) rotate(-90)`)
    .attr('text-anchor', 'middle').attr('font-size', 6.8).text('PC2 (21%)')

  // legend
  g.append('text').attr('x', 156).attr('y', 58).attr('font-size', 7.5).text('Group')
  pcaGroups.forEach((grp, i) => {
    const yy = 64.5 + i * 7.5
    const p = g.append('g').attr('transform', `translate(162,${yy})`)
    drawSymbol(p, grp, grp === 'F1_ER' ? 18 : 15)
    g.append('text').attr('x', 167).attr('y', yy + 2.4).attr('font-size', 6.6).text(grp)
  })
}

// ---- B: DAM bars ----
{
  const x = d3.scaleBand().domain(damComparisons).range([229, 369]).paddingInner(0.31).paddingOuter(0.15)
  const y = d3.scaleLinear().domain([0, 130]).range([127, 13])
  const g = svg.append('g')
  const bw = x.bandwidth() / 2
  const upColor = '#D9837A', downColor = '#B8AA89'

  g.selectAll('.up').data(damComparisons).join('rect')
    .attr('x', d => x(d)).attr('y', (d, i) => y(damUp[i])).attr('width', bw)
    .attr('height', (d, i) => y(0) - y(damUp[i])).attr('fill', upColor)
  g.selectAll('.down').data(damComparisons).join('rect')
    .attr('x', d => x(d) + bw).attr('y', (d, i) => y(damDown[i])).attr('width', bw)
    .attr('height', (d, i) => y(0) - y(damDown[i])).attr('fill', downColor)
  g.selectAll('.upl').data(damComparisons).join('text')
    .attr('x', d => x(d) + bw / 2).attr('y', (d, i) => y(damUp[i]) - 3).attr('text-anchor', 'middle')
    .attr('font-size', 6.5).text((d, i) => damUp[i])
  g.selectAll('.downl').data(damComparisons).join('text')
    .attr('x', d => x(d) + bw * 1.5).attr('y', (d, i) => y(damDown[i]) - 3).attr('text-anchor', 'middle')
    .attr('font-size', 6.5).text((d, i) => damDown[i])

  // axes
  g.append('line').attr('x1', 227).attr('x2', 227).attr('y1', y(0)).attr('y2', y(130))
    .attr('stroke', '#222').attr('stroke-width', 0.8)
  g.append('line').attr('x1', 227).attr('x2', 370).attr('y1', y(0)).attr('y2', y(0))
    .attr('stroke', '#222').attr('stroke-width', 0.8)
  const yt = d3.range(0, 121, 20)
  g.selectAll('.ytk').data(yt).join('line')
    .attr('x1', 224).attr('x2', 227).attr('y1', d => y(d)).attr('y2', d => y(d))
    .attr('stroke', '#222').attr('stroke-width', 0.8)
  g.selectAll('.ytl').data(yt).join('text')
    .attr('x', 222.5).attr('y', d => y(d) + 2.2).attr('text-anchor', 'end')
    .attr('font-size', 6.3).attr('fill', '#333').text(d => d)
  g.selectAll('.xtk').data(damComparisons).join('line')
    .attr('x1', d => x(d) + bw).attr('x2', d => x(d) + bw).attr('y1', y(0)).attr('y2', y(0) + 2.5)
    .attr('stroke', '#222').attr('stroke-width', 0.8)
  g.selectAll('.xtl').data(damComparisons).join('text')
    .attr('transform', d => `translate(${x(d) + bw + 2},${y(0) + 5}) rotate(-45)`)
    .attr('text-anchor', 'end').attr('font-size', 6.3).attr('fill', '#333').text(d => d)
  g.append('text').attr('transform', `translate(209,70) rotate(-90)`)
    .attr('text-anchor', 'middle').attr('font-size', 6.5).text('Number of DAMs')

  // legend
  const leg = [['up', upColor], ['down', downColor]]
  leg.forEach((l, i) => {
    g.append('rect').attr('x', 337).attr('y', 18 + i * 11.5).attr('width', 7).attr('height', 6).attr('fill', l[1])
    g.append('text').attr('x', 348).attr('y', 24 + i * 11.5).attr('font-size', 8).text(l[0])
  })
}

// ---- C: Venn ----
{
  const vx = d3.scaleLinear().domain([0, 1]).range([375, 535])
  const vy = d3.scaleLinear().domain([0, 1]).range([169.2, 9.2])
  const unit = 160
  const ellipses = [
    { cx: 0.35, cy: 0.465, rot: 43 },
    { cx: 0.50, cy: 0.565, rot: 45 },
    { cx: 0.50, cy: 0.565, rot: -45 },
    { cx: 0.65, cy: 0.465, rot: -43 }
  ]
  const g = svg.append('g')
  g.selectAll('ellipse').data(ellipses).join('ellipse')
    .attr('transform', d => `translate(${vx(d.cx)},${vy(d.cy)}) rotate(${d.rot})`)
    .attr('rx', 0.35 * unit).attr('ry', 0.22 * unit)
    .attr('fill', (d, i) => vennColors[i]).attr('fill-opacity', 0.5)

  // region label anchors in venn unit space
  const regionPos = [[0.225, 0.451], [0.356, 0.739], [0.638, 0.676], [0.788, 0.451], [0.313, 0.576],
    [0.494, 0.626], [0.688, 0.583], [0.40, 0.476], [0.60, 0.476], [0.356, 0.351], [0.50, 0.376],
    [0.644, 0.351], [0.4375, 0.289], [0.5625, 0.289], [0.494, 0.214]]
  g.selectAll('.cnt').data(vennCounts).join('text')
    .attr('x', (d, i) => vx(regionPos[i][0])).attr('y', (d, i) => vy(regionPos[i][1]) + 2.3)
    .attr('text-anchor', 'middle').attr('font-size', 6.5).attr('fill', '#333').text(d => d)

  const setLabelPos = [[0.153, 0.726], [0.30, 0.8825], [0.731, 0.8825], [0.894, 0.72]]
  g.selectAll('.setl').data(vennSets).join('text')
    .attr('x', (d, i) => vx(setLabelPos[i][0])).attr('y', (d, i) => vy(setLabelPos[i][1]) + 2.4)
    .attr('text-anchor', 'middle').attr('font-size', 6.8).attr('fill', '#333').text(d => d)
}

// ---- D: Mfuzz clusters ----
{
  const memColor = d3.scaleLinear().domain(membershipStops).range(membershipColors)
  const step = 8.3
  const regionW = 15.12 * step

  // dashed frame
  svg.append('rect').attr('x', 7).attr('y', 186).attr('width', 533).attr('height', 362)
    .attr('fill', 'none').attr('stroke', '#9A9A9A').attr('stroke-width', 0.9).attr('stroke-dasharray', '10,7')

  clusterLines.forEach((lines, k) => {
    const col = k % 3, row = Math.floor(k / 3)
    const x0 = 52.4 + col * 155
    const bottom = 286 + row * 115
    const top = bottom - 100
    const xs = d3.scaleLinear().domain([0.44, 15.56]).range([x0, x0 + regionW])
    const ys = d3.scaleLinear().domain(clusterYlim[k]).range([bottom, top])
    const g = svg.append('g')

    defs.append('clipPath').attr('id', 'clip' + k).append('rect')
      .attr('x', x0).attr('y', top).attr('width', regionW).attr('height', bottom - top)

    const line = d3.line().x((d, i) => xs(i + 1)).y(d => ys(d))
    const sorted = lines.slice().sort((a, b) => a[0] - b[0])
    g.append('g').attr('clip-path', `url(#clip${k})`)
      .selectAll('path').data(sorted).join('path')
      .attr('d', d => line(d.slice(1)))
      .attr('fill', 'none').attr('stroke', d => memColor(d[0]))
      .attr('stroke-width', d => d[0] > 0.85 ? 1.1 : 0.8).attr('stroke-linejoin', 'round')

    // x axis
    g.append('line').attr('x1', xs(1)).attr('x2', xs(15)).attr('y1', bottom).attr('y2', bottom)
      .attr('stroke', '#333').attr('stroke-width', 0.6)
    g.selectAll('.xt').data(d3.range(1, 16)).join('line')
      .attr('x1', d => xs(d)).attr('x2', d => xs(d)).attr('y1', bottom).attr('y2', bottom + 4)
      .attr('stroke', '#333').attr('stroke-width', 0.6)
    g.selectAll('.xl').data([1, 7, 13]).join('text')
      .attr('x', d => xs(d)).attr('y', bottom + 12).attr('text-anchor', 'middle')
      .attr('font-size', 6.5).attr('fill', '#222').text(d => timeLabels[d - 1])

    // y axis
    const yt = d3.range(Math.ceil(clusterYlim[k][0]), Math.floor(clusterYlim[k][1]) + 1)
    g.append('line').attr('x1', x0).attr('x2', x0).attr('y1', ys(yt[0])).attr('y2', ys(yt[yt.length - 1]))
      .attr('stroke', '#333').attr('stroke-width', 0.6)
    g.selectAll('.yt').data(yt).join('line')
      .attr('x1', x0 - 4).attr('x2', x0).attr('y1', d => ys(d)).attr('y2', d => ys(d))
      .attr('stroke', '#333').attr('stroke-width', 0.6)
    g.selectAll('.yl').data(yt).join('text')
      .attr('transform', d => `translate(${x0 - 8},${ys(d)}) rotate(-90)`)
      .attr('text-anchor', 'middle').attr('font-size', 6.3).attr('fill', '#222').text(d => d)

    if (col === 0) {
      g.append('text').attr('transform', `translate(22,${(top + bottom) / 2}) rotate(-90)`)
        .attr('text-anchor', 'middle').attr('font-size', 6.5).text('Expression change')
    }
    if (row === 2) {
      g.append('text').attr('x', xs(8)).attr('y', bottom + 21).attr('text-anchor', 'middle')
        .attr('font-size', 6.5).text('Time')
    }
  })

  // membership colour bar
  const grad = defs.append('linearGradient').attr('id', 'memgrad')
    .attr('x1', 0).attr('x2', 0).attr('y1', 1).attr('y2', 0)
  membershipStops.forEach((s, i) => grad.append('stop').attr('offset', s).attr('stop-color', membershipColors[i]))
  const my = d3.scaleLinear().domain([0, 1]).range([425, 310])
  svg.append('text').attr('x', 518).attr('y', 293).attr('text-anchor', 'middle')
    .attr('font-size', 6).text('Membership')
  svg.append('rect').attr('x', 505).attr('y', my(1) - 2).attr('width', 9).attr('height', my(0) - my(1) + 4)
    .attr('fill', 'url(#memgrad)')
  const mt = d3.range(0, 11).map(d => d / 10)
  svg.selectAll('.mtk').data(mt).join('line')
    .attr('x1', 514).attr('x2', 517).attr('y1', d => my(d)).attr('y2', d => my(d))
    .attr('stroke', '#333').attr('stroke-width', 0.5)
  svg.selectAll('.mtl').data(mt).join('text')
    .attr('x', 519.5).attr('y', d => my(d) + 2).attr('font-size', 6).attr('fill', '#222')
    .text(d => d.toFixed(1))
}

// ---- E: heatmap ----
{
  const x = d3.scaleBand().domain(heatPathways).range([33, 538.5])
  const y = d3.scaleBand().domain(heatClusters).range([560, 624.8])
  const color = d3.scaleLinear().domain([-2, 0, 2]).range(['#2B3F99', '#FFFFFF', '#E5161E']).clamp(true)
  const g = svg.append('g')

  heatValues.forEach((row, r) => {
    g.selectAll('.r' + r).data(row).join('rect')
      .attr('x', (d, c) => x(heatPathways[c])).attr('y', y(heatClusters[r]))
      .attr('width', x.bandwidth() + 0.3).attr('height', y.bandwidth() + 0.3)
      .attr('fill', d => color(d))
  })

  g.selectAll('.rl').data(heatClusters).join('text')
    .attr('x', 31).attr('y', d => y(d) + y.bandwidth() / 2 + 2.2).attr('text-anchor', 'end')
    .attr('font-size', 6.3).attr('fill', '#222').text(d => d)
  g.selectAll('.cl').data(heatPathways).join('text')
    .attr('transform', d => `translate(${x(d) + x.bandwidth() / 2 + 2.1},628.5) rotate(-90)`)
    .attr('text-anchor', 'end').attr('font-size', 6).attr('fill', '#222').text(d => d)

  // legend
  const grad = defs.append('linearGradient').attr('id', 'heatgrad')
    .attr('x1', 0).attr('x2', 0).attr('y1', 1).attr('y2', 0)
  d3.range(-2, 2.01, 0.5).forEach(v => grad.append('stop')
    .attr('offset', (v + 2) / 4).attr('stop-color', color(v)))
  const ly = d3.scaleLinear().domain([-2, 2]).range([684, 652])
  g.append('rect').attr('x', 20.5).attr('y', ly(2) - 4).attr('width', 4.5).attr('height', ly(-2) - ly(2) + 8)
    .attr('fill', 'url(#heatgrad)')
  g.selectAll('.hl').data(heatLegendTicks).join('text')
    .attr('x', 28).attr('y', d => ly(d) + 1.6).attr('font-size', 4.5).attr('fill', '#444').text(d => d)
}
</script>
</body>
</html>
